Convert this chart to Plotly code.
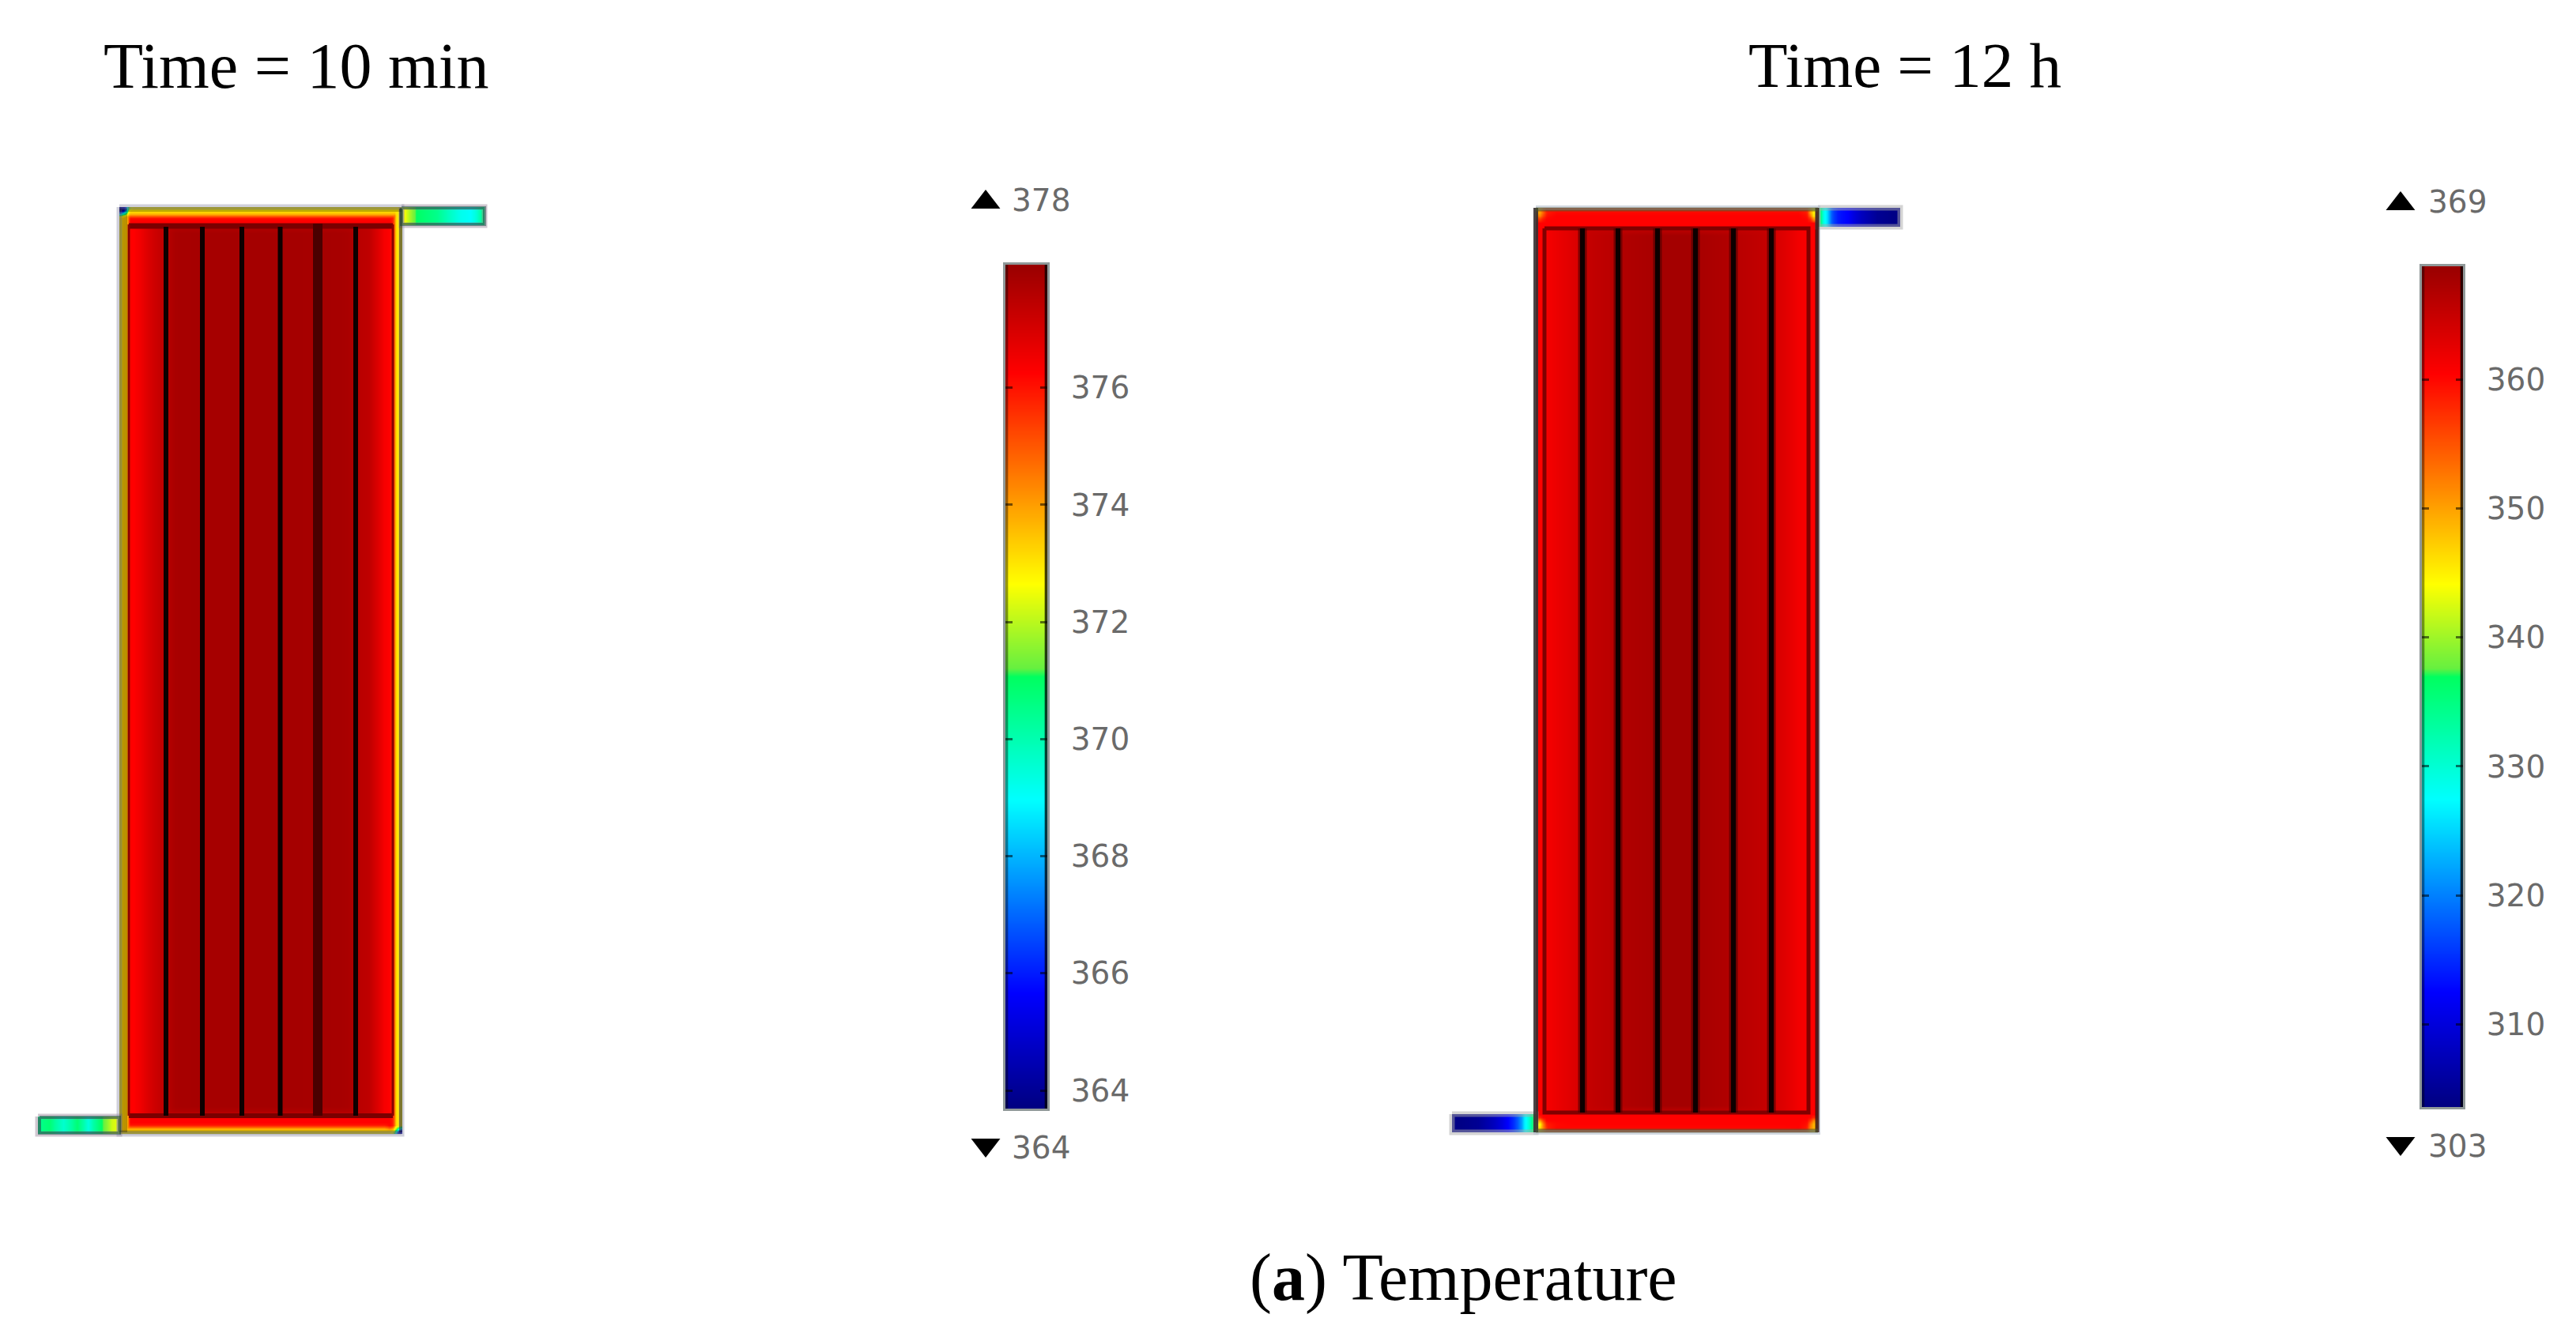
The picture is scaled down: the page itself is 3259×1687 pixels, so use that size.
import numpy as np
import plotly.graph_objects as go

W, H = 3259, 1687

# ---------- readings from the picture (temperatures, K) ----------
A_X_EDGES = [151,154,158,161,163,166,172,182,192,202,212,230,430,450,462,472,482,490,495,498,500,503,506,509]
A_X_TEMPS = [372.9,373.4,373.4,374.5,376.25,376.25,376.5,376.9,377.2,377.4,377.8,377.9,377.8,377.5,377.4,376.9,376.4,376.25,375.8,374.5,373.0,373.0,372.8]
A_Y_EDGES = [262,265,268,271,273,275,277,280,283,286,290,300,1395,1405,1410,1414,1418,1423,1425,1427,1429,1431,1433,1435]
A_Y_TEMPS = [372.8,373.0,373.4,374.2,375.2,376.0,376.25,376.25,376.8,377.6,377.9,377.9,377.9,377.6,376.8,376.25,376.25,375.8,375,374,373.4,373.0,372.8]
A_CORNER_TL = [[364.3,364.8,367.5,370.5,372.3,372.8],[364.8,365.5,368.5,371.5,373,373.0],[367.5,368.8,371,372.6,373.4,373.4],
               [370.5,371.5,372.6,373.5,374.2,374.2],[372.5,373,373.4,374.4,375.2,375.2],[372.9,373.4,373.4,374.5,376,376.0]]
A_CORNER_BR = [[376.2,375.8,374.5,373,373,372.8],[375.5,375,373.5,372.4,371.5,371],[374.6,374,372.8,371.5,370,369],
               [373.6,373.4,372.3,370.5,368,366.5],[373,372.6,371.5,369,365.5,364.5],[372.8,372.4,371,368,364.8,364.2]]
A_TOP_STUB_X = [508,515,522,530,545,560,575,590,600,607,613]
A_TOP_STUB_T = [372.6,371.8,371.1,370.8,370.5,369.8,369.2,369,369.6,370.5]
A_BOT_STUB_X = [48,55,70,90,105,118,135,148,151]
A_BOT_STUB_T = [370.5,370.8,369.6,370.8,369.4,370.9,372.2,372.6]
A_TICKS = [364,366,368,370,372,374,376]
A_RANGE = [363.69,378.1]

B_X_EDGES = [1943,1946,1950,1954,1958,1980,2000,2005,2025,2045,2050,2072,2095,2100,2143,2148,2170,2191,2196,2218,2239,2244,2266,2284,2288,2292,2296,2300]
B_X_TEMPS = [360.4,360.4,360.4,360.6,362,363.2,364.5,365.5,366,366.5,367,367.4,367.8,367.9,367.8,367.4,367,366.5,366,365.5,364.5,363.2,361.5,360.5,360.4,360.4,360.4]
B_Y_EDGES = [263,267,271,275,280,284,288,292,304,1394,1404,1408,1412,1416,1420,1425,1429,1433]
B_Y_TEMPS = [359,360,360.4,360.4,360.4,360.4,365,367.9,367.9,367.9,365,360.4,360.4,360.4,360.4,360,359]
B_CORNER_TL = [[350,352,356,359,359],[350,350,354,358,360],[353,352,356,359,360.4],[358,357,359,360.2,360.4]]
B_CORNER_TR = [[359,358,352,347,345],[360,358,350,345,344],[360.4,359,353,346,345],[360.4,360,358,352,350]]
B_CORNER_BL = [[360,358,360,360.4,360.4],[352,350,356,360,360.4],[345,344,352,358,360],[347,346,352,357,360],[350,350,354,358,359]]
B_CORNER_BR = [[360.4,360.4,360,358,358],[360.4,360,357,352,351],[360.4,359,353,349,348],[360.2,358,352,349,348],[359,357,352,350,350]]
B_TOP_STUB_X = [2300,2304,2308,2314,2320,2330,2345,2365,2385,2404]
B_TOP_STUB_T = [337,330,326,318,314,312.5,308,305,304]
B_BOT_STUB_X = [1837,1860,1880,1900,1915,1925,1931,1937,1943]
B_BOT_STUB_T = [304,305,308,312.5,318,326,330,337]
B_TICKS = [310,320,330,340,350,360]
B_RANGE = [303.57,368.8]

A_FINS = [210,256,306,354.5,450]
A_WIDE_FIN = [402]
B_FINS = [2002,2047,2097,2145,2193,2241]

TITLES = ["Time = 10 min", "Time = 12 h"]
CAPTION = "(<b>a</b>) Temperature"
MAX_LABELS = ["378", "369"]
MIN_LABELS = ["364", "303"]

RAINBOW = [[0,"#000080"],[0.137,"#0000ff"],[0.366,"#00ffff"],[0.512,"#00ff60"],[0.522,"#66f040"],
           [0.622,"#ffff00"],[0.744,"#ff8000"],[0.872,"#ff0000"],[1,"#990000"]]

fig = go.Figure()

def field(x, y, z, rng, xa="x", ya="y"):
    fig.add_trace(go.Heatmap(x=x, y=y, z=z, zmin=rng[0], zmax=rng[1], colorscale=RAINBOW, zsmooth="best",
                             showscale=False, hoverinfo="skip", xaxis=xa, yaxis=ya))

def path(x, y, color, width, xa="x", ya="y"):
    fig.add_trace(go.Scatter(x=x, y=y, mode="lines", line=dict(color=color, width=width), showlegend=False,
                             hoverinfo="skip", xaxis=xa, yaxis=ya, connectgaps=False))

def rect(x0, x1, y0, y1, color, width):
    path([x0,x1,x1,x0,x0], [y0,y0,y1,y1,y0], color, width)

def body_z(xt, yt):
    return np.minimum.outer(np.array(yt), np.array(xt))

# ---------- Panel A ----------
za = body_z(A_X_TEMPS, A_Y_TEMPS)
za[:6,:6] = A_CORNER_TL
za[-6:,-6:] = A_CORNER_BR
field(A_X_EDGES, A_Y_EDGES, za.tolist(), A_RANGE)
field(A_TOP_STUB_X, [262,273,285], [A_TOP_STUB_T, A_TOP_STUB_T], A_RANGE)
field(A_BOT_STUB_X, [1413,1424,1435], [A_BOT_STUB_T, A_BOT_STUB_T], A_RANGE)

rect(508,613,262,285,"rgba(150,130,150,0.45)",7)
rect(48,151,1413,1435,"rgba(150,130,150,0.45)",7)
rect(151,508,262,1435,"rgba(150,150,175,0.45)",7)
path([156,156],[264,1433],"rgba(0,0,0,0.27)",10)
path([151,508],[265,265],"rgba(0,0,0,0.25)",6)
path([151,508],[1433,1433],"rgba(0,0,0,0.25)",5)
path([507,507],[264,1433],"rgba(0,0,0,0.4)",4)
rect(508,613,263,284,"rgba(0,60,50,0.45)",4)
rect(50,151,1414,1434,"rgba(0,60,50,0.45)",4)
path([163,497],[286,286],"#7a0000",7)
path([163,497],[1412,1412],"#7a0000",6)
path([163,163],[284,1412],"#8a0000",3)
path([497,497],[284,1412],"#8a0000",3)
for fx in A_WIDE_FIN:
    path([fx,fx],[283,1412],"#4a0000",12)
for fx in A_FINS:
    path([fx,fx],[287,1412],"#0c0000",6)

# ---------- Panel B ----------
zb = body_z(B_X_TEMPS, B_Y_TEMPS)
zb[:4,:5] = B_CORNER_TL
zb[:4,-5:] = B_CORNER_TR
zb[-5:,:5] = B_CORNER_BL
zb[-5:,-5:] = B_CORNER_BR
field(B_X_EDGES, B_Y_EDGES, zb.tolist(), B_RANGE)
field(B_TOP_STUB_X, [263,275,287], [B_TOP_STUB_T, B_TOP_STUB_T], B_RANGE)
field(B_BOT_STUB_X, [1410,1421,1433], [B_BOT_STUB_T, B_BOT_STUB_T], B_RANGE)

rect(2300,2404,263,287,"rgba(170,170,170,0.5)",7)
rect(1837,1943,1410,1433,"rgba(170,170,170,0.5)",7)
rect(1943,2300,263,1433,"rgba(175,185,200,0.55)",6)
path([1943,1943],[263,1433],"rgba(40,30,30,0.8)",6)
path([2299,2299],[263,1433],"rgba(40,0,0,0.75)",5)
path([1943,2300],[265,265],"rgba(70,90,50,0.55)",5)
path([1943,2300],[1431,1431],"rgba(70,90,50,0.55)",5)
rect(1954,2288,289,1408,"#800000",5)
for fx in B_FINS:
    path([fx,fx],[289,1408],"rgba(70,0,0,0.6)",11)
    path([fx,fx],[289,1408],"#0c0000",6)

# ---------- Colour bars ----------
def bar_axes(n, x0, x1, y0, y1, rng, ticks):
    xn, yn = f"xaxis{n}", f"yaxis{n}"
    fig.update_layout(**{
        xn: dict(domain=[x0/W, x1/W], range=[0,1], anchor=f"y{n}", showgrid=False, zeroline=False, showticklabels=False,
                 ticks="", showline=True, mirror=True, linecolor="rgba(125,135,135,0.85)", linewidth=3),
        yn: dict(domain=[1-y1/H, 1-y0/H], range=rng, anchor=f"x{n}", side="right", showgrid=False, zeroline=False,
                 tickmode="array", tickvals=ticks, ticktext=[str(t) for t in ticks],
                 ticks="inside", ticklen=9, tickwidth=3, tickcolor="rgba(0,0,0,0.55)",
                 showline=True, mirror="ticks", linecolor="rgba(125,135,135,0.85)", linewidth=3,
                 ticklabelstandoff=19,
                 tickfont=dict(family="DejaVu Sans", size=39, color="#6a6a6a")),
    })
    field([0,1], rng, [[rng[0],rng[0]],[rng[1],rng[1]]], rng, f"x{n}", f"y{n}")
    path([0.025,0.025], rng, "rgba(0,0,0,0.4)", 4, f"x{n}", f"y{n}")
    path([0.975,0.975], rng, "rgba(0,0,0,0.75)", 4, f"x{n}", f"y{n}")

bar_axes(2, 1272, 1325, 335, 1403, A_RANGE, A_TICKS)
bar_axes(3, 3064, 3116, 337, 1401, B_RANGE, B_TICKS)

# ---------- Extreme-value markers ----------
ext_font = dict(family="DejaVu Sans", size=39, color="#6a6a6a")
fig.add_trace(go.Scatter(x=[1247,3037], y=[256,258], mode="markers", cliponaxis=False,
                         marker=dict(symbol="triangle-up", size=32, color="black"), showlegend=False, hoverinfo="skip"))
fig.add_trace(go.Scatter(x=[1247,3037], y=[1449,1447], mode="markers", cliponaxis=False,
                         marker=dict(symbol="triangle-down", size=32, color="black"), showlegend=False, hoverinfo="skip"))
fig.add_trace(go.Scatter(x=[1280,3072,1280,3072], y=[257,259,1456,1454], mode="text", text=MAX_LABELS+MIN_LABELS,
                         textposition="middle right", textfont=ext_font, cliponaxis=False,
                         showlegend=False, hoverinfo="skip"))

# ---------- Text ----------
for tx, cx, cy, sz in [(TITLES[0], 374, 83, 82), (TITLES[1], 2410, 83, 81), (CAPTION, 1851, 1617, 84)]:
    fig.add_annotation(x=cx, y=cy, xref="x", yref="y", text=tx, showarrow=False,
                       font=dict(family="Liberation Serif", size=sz, color="black"),
                       xanchor="center", yanchor="middle")

fig.update_layout(
    width=W, height=H, margin=dict(l=0, r=0, t=0, b=0), autosize=False,
    paper_bgcolor="white", plot_bgcolor="rgba(0,0,0,0)", showlegend=False,
    xaxis=dict(domain=[0,1], range=[0,W], visible=False),
    yaxis=dict(domain=[0,1], range=[H,0], visible=False),
)

fig.write_html("out.html", config={"displayModeBar": False},
               post_script="document.body.style.margin='0';document.body.style.overflow='hidden';")
